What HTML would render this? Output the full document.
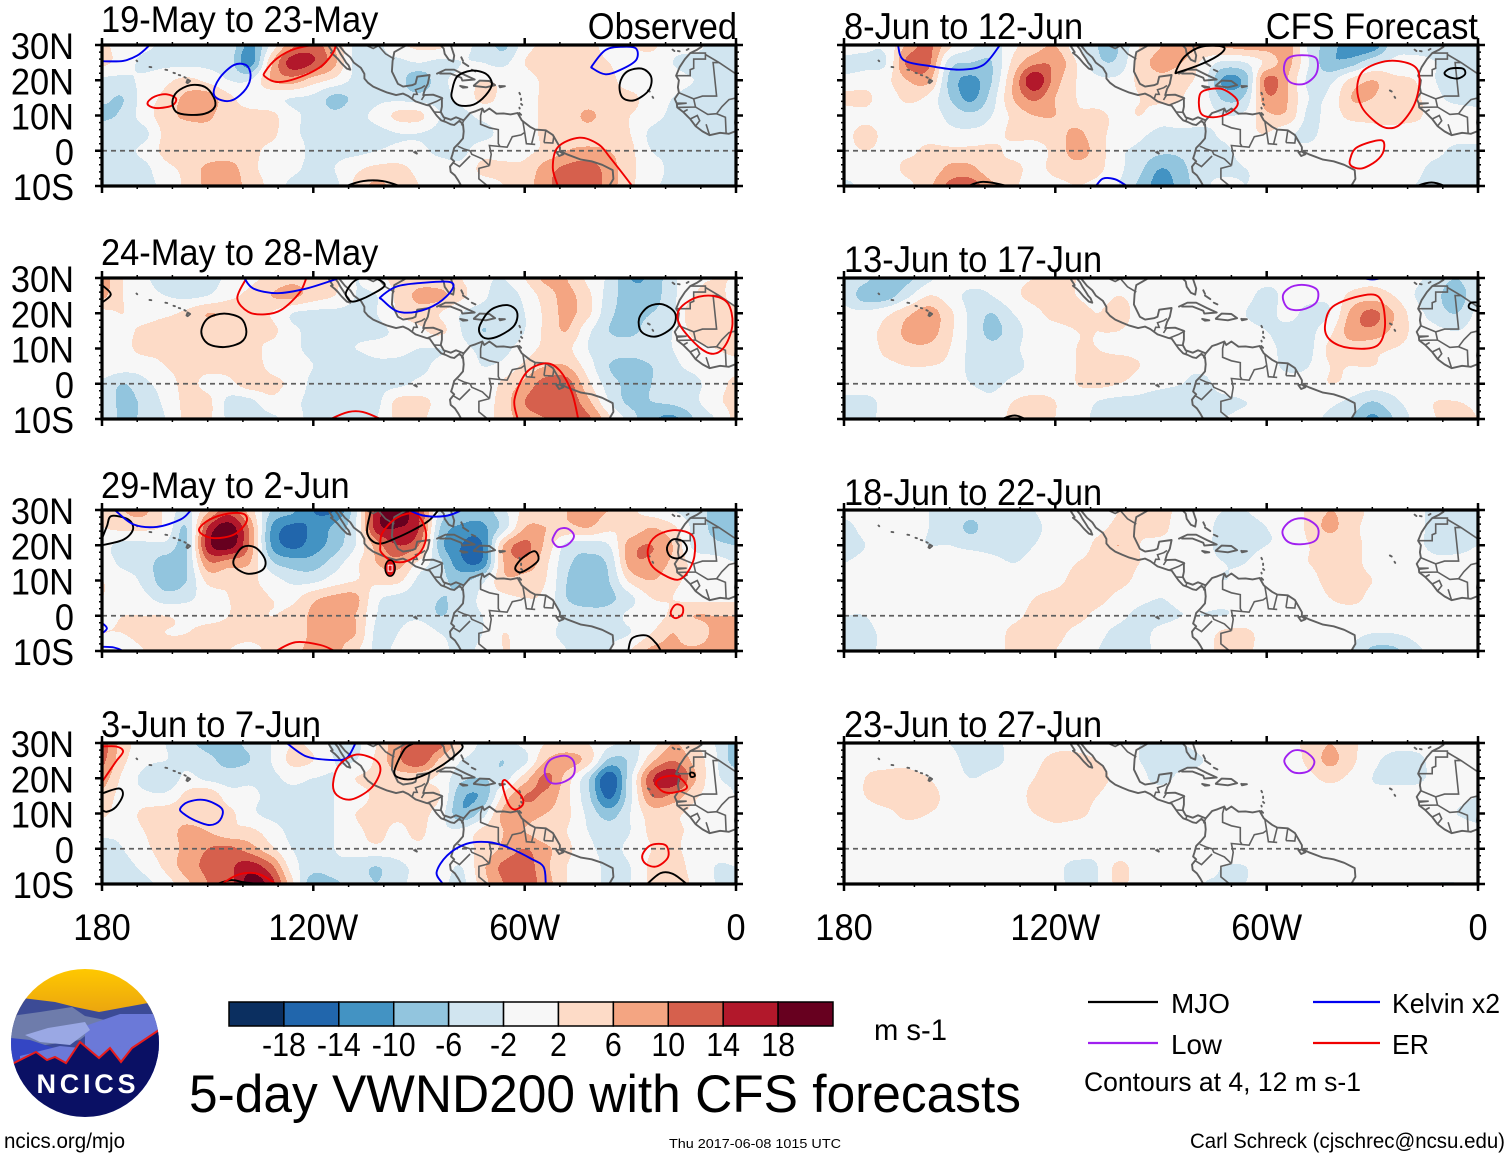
<!DOCTYPE html>
<html lang="en">
<head>
<meta charset="utf-8">
<title>5-day VWND200 with CFS forecasts</title>
<style>
html,body{margin:0;padding:0;background:#fff;width:1510px;height:1158px;overflow:hidden}
svg{display:block;font-family:"Liberation Sans",Arial,sans-serif}
</style>
</head>
<body>
<svg id="chart" xmlns="http://www.w3.org/2000/svg" width="1510" height="1158" viewBox="0 0 1510 1158">
  <g id="panels"></g>

  <g id="colorbar"></g>
  <text x="874" y="1040" font-size="30" textLength="73" lengthAdjust="spacingAndGlyphs">m s-1</text>
  <text x="189" y="1112" font-size="53" textLength="832" lengthAdjust="spacingAndGlyphs">5-day VWND200 with CFS forecasts</text>

  <g>
    <line x1="1088" y1="1002" x2="1158" y2="1002" stroke="#000" stroke-width="2.2"/>
    <text x="1171" y="1013" font-size="28" textLength="59" lengthAdjust="spacingAndGlyphs">MJO</text>
    <line x1="1313" y1="1002" x2="1380" y2="1002" stroke="#0000f0" stroke-width="2.2"/>
    <text x="1392" y="1013" font-size="28" textLength="108" lengthAdjust="spacingAndGlyphs">Kelvin x2</text>
    <line x1="1088" y1="1043" x2="1158" y2="1043" stroke="#a020f0" stroke-width="2.2"/>
    <text x="1171" y="1054" font-size="28" textLength="51" lengthAdjust="spacingAndGlyphs">Low</text>
    <line x1="1313" y1="1043" x2="1380" y2="1043" stroke="#f00000" stroke-width="2.2"/>
    <text x="1392" y="1054" font-size="28" textLength="37" lengthAdjust="spacingAndGlyphs">ER</text>
    <text x="1084" y="1091" font-size="27" textLength="277" lengthAdjust="spacingAndGlyphs">Contours at 4, 12 m s-1</text>
  </g>

  <text x="4" y="1148" font-size="21" textLength="121" lengthAdjust="spacingAndGlyphs">ncics.org/mjo</text>
  <text x="669" y="1148" font-size="13" textLength="172" lengthAdjust="spacingAndGlyphs">Thu 2017-06-08 1015 UTC</text>
  <text x="1190" y="1148" font-size="21" textLength="315" lengthAdjust="spacingAndGlyphs">Carl Schreck (cjschrec@ncsu.edu)</text>

  <g>
    <defs>
      <clipPath id="logo-clip"><circle cx="85" cy="1043" r="74"/></clipPath>
      <linearGradient id="logo-sky" x1="0" y1="0" x2="0" y2="1">
        <stop offset="0" stop-color="#ffc800"/>
        <stop offset="1" stop-color="#e8a012"/>
      </linearGradient>
    </defs>
    <g clip-path="url(#logo-clip)">
      <rect x="11" y="969" width="148" height="50" fill="url(#logo-sky)"/>
      <polygon points="11,1000 22,998 55,1002 75,1007 99,1012 148,1003 159,1005 159,1060 11,1060" fill="#3c4b96"/>
      <polygon points="11,1016 40,1012 72,1007 85,1016 105,1020 80,1040 11,1050" fill="#6e7cab"/>
      <polygon points="85,1026 120,1014 159,1014 159,1090 85,1090" fill="#6b79d8"/>
      <polygon points="25,1035 48,1028 85,1022 90,1030 70,1045 40,1042" fill="#9aa8e4"/>
      <polygon points="11,1038 30,1040 60,1050 70,1070 20,1075 11,1075" fill="#3446c4"/>
      <polygon points="20,1056 60,1046 100,1050 130,1045 159,1028 159,1080 20,1080" fill="#6b79d8"/>
      <polygon points="11,1064 14,1063 36,1052 47,1060 55,1057 66,1063 80,1042 99,1058 110,1048 121,1062 132,1048 159,1030 159,1120 11,1120" fill="#0a1064"/>
      <polyline points="11,1064 14,1063 36,1052 47,1060 55,1057 66,1063 80,1042 99,1058 110,1048 121,1062 132,1048 159,1030" fill="none" stroke="#e81c1c" stroke-width="2"/>
      <text x="86" y="1093" font-size="27" font-weight="bold" fill="#fff" text-anchor="middle" textLength="99" lengthAdjust="spacing">NCICS</text>
    </g>
  </g>
</svg>

<script>
// ---- Shared axis data ----
const lonGrid = [180,174,168,162,156,150,144,138,132,126,120,114,108,102,96,90,84,78,72,66,60,54,48,42,36,30,24,18,12,6,0];
const latGrid = [30,25,20,15,10,5,0,-5,-10];
const xMajorTicks = [180,120,60,0];
const xMajorLabels = ['180','120W','60W','0'];
const yMajorTicks = [30,20,10,0,-10];
const yMajorLabels = ['30N','20N','10N','0','10S'];
const levelBounds = [-18,-14,-10,-6,-2,2,6,10,14,18];
const levelColors = ['#0b2f60','#2166ac','#4393c3','#92c5de','#d1e5f0','#f7f7f7','#fddbc7','#f4a582','#d6604d','#b2182b','#67001f'];
const colorbarLabels = ['-18','-14','-10','-6','-2','2','6','10','14','18'];
const seriesColors = {mjo:'#000000',kelvin:'#0000f0',er:'#f00000',low:'#a020f0'};

// ---- VWND200 anomaly (m/s), rows by latGrid, columns by lonGrid ----
const vwndMay19 = [
[3,0,-1,-3,-3,-3,-3,-11,-1,9,12,6,-3,-3,1,3,3,-1,-3,-7,0,3,3,3,1,2,3,-1,-1,-3,-3],
[3,0,-3,-3,-3,-3,-4,-12,5,16,14,7,-3,-3,-3,-2,-3,-2,-2,-3,2,5,3,3,2,0,0,-2,-3,-3,-3],
[-3,-3,-1,1,3,1,-2,-2,6,8,4,1,-3,-3,-4,-9,-3,-1,2,1,0,3,3,3,3,0,0,-1,-2,-3,-6],
[-5,-6,0,3,7,8,3,0,-1,-2,-3,-7,-5,-3,-3,-4,-3,-1,3,1,0,3,3,3,3,3,0,-2,-3,-3,-3],
[-7,-5,0,4,7,7,3,3,3,-1,-3,-5,-3,-1,3,3,-2,-3,-1,0,0,3,3,7,3,2,0,-3,-3,-3,-3],
[-3,-3,-3,3,3,4,3,3,3,-1,-3,-3,-3,-3,-2,-2,-3,-3,-3,-1,0,3,4,4,3,2,-3,-5,-3,-3,-3],
[-3,-3,-1,3,3,3,3,3,1,0,-3,-3,-3,-2,-1,-1,-3,-3,0,0,1,3,6,7,6,3,-2,-3,-3,-3,-3],
[-3,-3,-3,1,3,7,8,3,1,-1,-3,-2,1,3,3,1,0,-1,3,3,3,8,11,12,8,3,0,-3,-3,-3,-3],
[-4,-4,-3,-1,3,7,9,4,1,-3,-3,-3,3,7,4,2,0,0,0,2,4,9,12,13,8,3,-1,-3,-3,-3,-3]];
const vwndMay24 = [
[8,2,-1,-5,-6,-4,-1,1,3,5,4,3,-2,1,3,4,3,2,-1,-2,2,7,6,1,-3,-10,-9,-3,1,2,2],
[7,2,0,-2,-3,-2,1,3,6,7,4,2,-2,-2,3,7,7,3,-1,-4,-1,4,7,3,-4,-8,-8,-3,2,3,1],
[1,2,0,1,3,6,5,3,2,-2,-3,-3,-3,-2,2,4,2,-2,-4,-3,-2,3,7,3,-5,-7,-6,-3,5,3,3],
[1,1,3,5,4,3,3,2,3,-1,-3,-3,-3,-3,-1,1,3,-2,-6,-4,-2,3,6,-1,-6,-7,-4,-2,3,3,3],
[0,1,3,3,3,3,3,3,1,-1,-3,-3,-2,-1,-1,-2,-2,-1,-3,-3,0,3,3,-2,-4,-4,-3,-2,1,2,3],
[1,0,0,2,3,3,3,4,1,0,-2,-3,-4,-3,-3,-3,-1,0,-2,-1,3,6,6,0,-6,-8,-6,-3,-1,0,1],
[-3,-6,-3,0,3,1,1,4,3,1,-3,-3,-3,-3,-3,-1,0,1,-1,3,7,12,12,3,-4,-7,-6,-4,-3,0,3],
[-3,-7,-5,-1,3,3,-3,-3,1,-1,-3,-3,-3,-3,3,3,1,0,0,4,10,13,13,7,-2,-7,-6,-5,-3,1,3],
[-2,-7,-5,-2,3,3,-3,-5,-3,-1,-3,-3,-3,-2,3,3,0,0,0,4,8,10,12,11,3,-4,-9,-11,-6,-2,3]];
const vwndMay29 = [
[3,6,7,1,-3,5,12,4,-6,-9,-14,-14,-3,16,20,14,-3,-6,-8,-3,3,4,6,7,6,3,0,-2,-4,-7,-8],
[2,3,3,1,-6,14,20,9,-10,-15,-13,-9,-2,16,18,14,-6,-11,-11,-4,6,6,5,6,3,3,6,3,-3,-7,-8],
[-1,-3,-3,-3,-6,16,20,9,-10,-15,-12,-8,-2,8,14,10,-8,-14,-14,6,11,5,-3,-4,-2,8,10,6,-3,-5,-6],
[0,-3,-4,-8,-6,9,8,6,-5,-8,-8,-4,1,6,8,1,-5,-13,-13,6,9,3,-5,-7,-5,8,9,5,1,0,-2],
[2,0,-3,-8,-6,3,3,3,0,-3,-3,0,2,3,3,-3,-5,-7,-3,5,4,2,-6,-8,-6,3,6,3,1,0,-1],
[2,0,-1,-4,-3,0,2,3,2,1,5,7,7,-1,-3,-4,-6,-5,-1,1,2,1,-6,-8,-7,-3,2,2,1,1,1],
[1,2,2,2,1,1,2,3,2,3,7,8,6,-2,-3,-3,-6,-4,-2,0,1,0,-3,-4,-4,-1,0,3,6,6,6],
[2,2,3,2,2,3,3,3,3,3,7,7,6,-3,-2,1,-2,-3,-2,2,0,-1,-3,-3,-3,-2,2,6,3,7,7],
[0,0,2,3,3,3,2,1,3,5,7,7,3,-3,-1,0,-1,-3,-1,2,1,0,-2,-4,-2,2,7,7,7,8,8]];
const vwndJun3 = [
[12,4,0,-2,-5,-7,-7,-5,-2,2,1,-3,-3,2,9,13,12,3,-3,-3,-1,2,3,2,-1,-3,0,6,3,-2,-8],
[11,3,-1,-2,-3,-5,-7,-6,-2,3,2,-2,-2,3,9,13,5,-2,-4,-6,-3,6,8,4,-7,-5,5,10,5,-1,-8],
[8,1,-3,-5,-1,-3,-4,-3,-3,-1,-2,-2,2,3,4,3,1,-5,-6,-4,4,11,4,-5,-17,-3,13,17,7,-1,-3],
[5,0,-1,-1,3,5,0,-1,-3,-3,-3,-2,0,3,4,3,2,-9,-9,3,10,9,3,-5,-15,-3,10,9,3,0,-2],
[3,0,3,4,4,3,3,-1,-3,-3,-3,-2,2,3,3,3,0,-9,-4,7,8,6,3,-3,-8,-2,4,3,1,0,-1],
[-1,-1,2,4,7,6,3,3,0,-3,-3,-2,1,3,1,3,-1,-1,3,6,6,3,2,-2,-4,-2,3,3,1,0,0],
[-3,-2,1,4,7,10,11,8,3,-2,-3,-2,0,1,0,1,0,1,3,7,10,7,3,-1,-3,-1,2,3,0,-1,-1],
[-3,-3,-1,3,8,11,13,16,11,0,-4,-3,-4,-6,-3,-1,0,-2,5,11,12,7,2,0,-3,-2,3,5,0,-2,-2],
[-3,-3,-3,0,5,10,12,20,16,3,-9,-7,-4,-6,-3,-1,-1,-3,4,10,12,8,2,0,-3,-2,3,6,1,-2,-2]];
const vwndJun8 = [
[0,-1,-1,7,11,3,-1,-4,1,4,6,-1,-6,-6,2,6,8,6,7,8,8,8,-3,-8,-13,-13,-4,-3,-3,-3,-3],
[-3,-3,-2,11,11,-4,-6,-6,3,9,9,2,-5,-5,4,7,6,1,-3,-2,3,7,-2,-9,-8,-3,-1,-1,-2,-3,-3],
[-1,0,1,6,7,-7,-11,-6,6,17,8,2,-1,-1,3,5,3,0,-11,-8,11,6,-3,-3,3,6,3,2,-2,-3,-3],
[3,3,0,3,1,-6,-11,-4,6,11,6,2,0,0,2,3,2,0,-7,-5,9,6,-2,-1,6,6,3,3,-1,-3,-3],
[0,1,0,0,0,-3,-5,-2,3,6,6,3,3,1,2,0,1,0,-2,-1,5,5,-3,0,3,3,3,3,0,0,-1],
[1,3,1,0,0,-1,-1,0,3,3,4,7,3,1,-1,-3,-3,-3,-1,1,2,-1,-3,0,0,1,1,0,0,0,0],
[1,2,1,1,3,3,3,3,1,1,3,8,4,-1,-3,-5,-5,-3,-3,0,0,-1,-1,0,0,0,0,0,-1,-3,-3],
[0,0,0,3,3,7,7,3,3,1,3,4,3,-1,-5,-10,-7,-3,-3,-2,-1,0,0,0,0,0,0,-1,-3,-3,-3],
[-3,-1,0,1,5,11,12,7,3,0,1,2,1,-2,-7,-12,-8,-3,-1,-2,-1,0,0,0,0,0,-1,-2,-3,-3,-3]];
const vwndJun13 = [
[-2,-5,-8,-7,-3,0,0,-1,1,2,2,2,1,1,0,0,0,1,1,0,-1,-1,-1,-1,0,1,0,-1,-4,-6,-3],
[-3,-8,-8,-3,2,0,-3,-2,1,3,3,2,1,2,1,0,0,0,0,-1,-3,-1,-1,-1,3,4,2,-2,-5,-8,-3],
[-1,-1,1,5,8,3,-3,-6,-2,1,3,3,2,3,1,0,0,0,0,-2,-3,-1,-3,-2,7,11,6,0,-4,-6,-1],
[0,1,3,7,8,3,-3,-7,-4,0,1,2,2,2,1,0,0,0,0,-1,-2,-3,-3,1,8,9,5,1,-1,-2,0],
[0,0,3,5,5,2,-3,-5,-3,0,1,2,2,1,1,1,0,0,1,0,-1,-3,-3,3,4,3,2,1,0,0,0],
[0,0,1,2,2,1,-3,-4,-3,-1,1,2,3,4,2,1,-1,-1,1,1,0,-3,-2,2,2,2,1,1,0,0,0],
[0,0,0,0,0,0,-2,-3,-1,0,1,2,3,2,0,-1,-2,-3,0,1,1,0,0,2,1,0,0,1,-1,-1,-1],
[-3,-3,-1,0,0,0,0,-1,2,3,2,1,-2,-3,-3,-4,-4,-3,-3,-2,-1,-1,0,-1,-3,-6,-3,0,2,2,1],
[-4,-3,-1,0,1,1,1,0,3,3,2,0,-3,-3,-3,-3,-4,-3,-2,-1,-2,-1,-1,-3,-6,-11,-6,-1,2,4,2]];
const vwndJun18 = [
[-1,0,0,-1,-2,-3,-4,-3,-3,-2,0,0,1,2,4,3,1,-1,-2,-2,-1,-1,3,6,4,1,0,-1,-3,-3,-2],
[-3,-1,0,0,-2,-3,-7,-3,-3,-3,0,0,1,3,3,3,0,-1,-3,-3,-2,-1,3,7,3,1,0,-1,-3,-4,-3],
[-3,-2,0,-1,-2,-2,-3,-3,-3,-2,0,0,3,6,2,1,1,-1,-3,-3,-2,-1,2,3,3,1,0,-1,-3,-3,-2],
[-2,-1,0,0,0,0,0,-1,-2,-1,0,2,3,3,2,1,1,-1,-2,-2,0,1,2,3,3,1,0,0,-1,-1,-1],
[0,0,0,0,0,0,0,0,0,0,1,3,3,3,1,-1,-1,-1,-2,-1,0,1,1,3,3,2,0,0,0,0,0],
[0,0,0,0,0,0,0,0,0,2,3,3,3,1,-1,-2,-1,-1,-1,-1,-1,0,0,2,3,1,0,0,0,0,0],
[-2,-2,0,0,0,0,0,0,1,3,3,3,1,-1,-3,-3,-2,-2,-2,-1,-1,0,0,0,0,0,0,0,0,0,0],
[-3,-3,-1,0,0,0,0,0,3,4,3,1,-1,-3,-3,-1,0,0,3,3,0,-1,-1,-1,-1,-2,-2,-1,0,0,0],
[-3,-3,-1,0,0,0,0,0,3,3,2,0,-2,-3,-3,-1,0,0,4,3,0,-1,-1,-1,-2,-7,-7,-3,-1,0,0]];
const vwndJun23 = [
[0,0,0,-1,-1,-2,-3,-3,-1,0,1,1,0,-1,-2,-2,-2,-1,0,0,0,1,3,6,3,0,-1,-1,-1,-1,-2],
[0,1,1,1,0,-1,-3,-3,-1,1,3,3,2,0,-2,-3,-3,-2,-1,0,0,0,3,7,3,-1,-3,-3,-1,-1,-1],
[0,2,3,3,2,0,-2,-1,0,2,4,4,3,1,-1,-3,-1,-1,0,0,-1,0,1,3,1,-2,-3,-3,-1,-1,-1],
[0,2,4,3,3,1,0,0,0,3,3,3,2,0,-1,0,0,0,0,-1,-2,-1,0,0,-1,-1,0,0,0,-1,-2],
[0,0,1,3,2,1,0,0,0,2,3,3,1,0,0,0,0,0,0,-1,-1,-1,0,0,0,0,0,0,0,-2,-3],
[0,0,0,0,0,0,0,0,0,0,1,0,0,0,0,0,0,0,0,0,0,0,0,0,0,0,0,0,0,0,-1],
[0,0,0,0,0,0,0,0,0,0,0,0,-1,-1,0,0,0,0,0,0,0,0,0,0,0,0,0,0,0,0,0],
[0,0,0,0,0,0,0,0,0,0,-1,-3,-2,3,0,0,0,-1,-2,-2,0,0,0,0,0,0,0,0,0,-1,-1],
[0,0,0,0,0,0,0,0,0,0,-1,-3,-2,3,0,0,0,-2,-2,-2,-1,0,0,-1,-1,0,0,-1,-2,-2,-1]];

// ---- Wave-filtered contours: [series, closed?, [[lonW, lat], ...]] ----
const contoursMay19 = [
['kelvin',false,[[180,25.4],[174,25.5],[170,27],[167,29.5],[165,32]]],
['er',true,[[167,13.8],[165,15.4],[161.6,16],[159,14.8],[160,12.9],[163.7,12.1],[166.4,12.6]]],
['mjo',true,[[160,13.8],[158.7,16.7],[154.9,18.6],[150.8,18.1],[148.3,15.2],[148,12.4],[150.8,10.5],[155.5,10.2],[158.9,11]]],
['kelvin',true,[[148.3,16.2],[146.7,20.5],[142.6,24.3],[139.1,24.3],[137.8,21.4],[139.1,17.6],[142.6,14.5],[146,14.3]]],
['er',true,[[133.7,22.4],[130.3,26.2],[124.9,29],[115.3,30.5],[114,28.6],[118,23.8],[124.9,20.5],[130.3,19.5],[133.7,21]]],
['mjo',true,[[80.6,17.1],[79.2,21],[75.2,22.7],[71.1,21.9],[69.3,19],[71.1,15.7],[74.5,13.1],[78.6,12.9],[80.6,14.8]]],
['mjo',true,[[33,19],[31,22.4],[26.8,23.3],[24.1,21],[24.8,17.1],[28.9,14.3],[32.3,15.2]]],
['kelvin',true,[[40.7,24.3],[37,28.6],[32.3,29.5],[28.4,29],[28.4,25.7],[32.9,22.9],[37,21.7],[40.6,23.3]]],
['mjo',false,[[112,-11],[110.6,-10],[105.8,-8.6],[100.3,-8.6],[95.6,-10],[94,-11]]],
['er',false,[[50.6,-11],[50.6,-10],[52,-4.8],[50.6,1],[44.5,3.7],[39,1.8],[35.7,-2],[29.5,-10],[29,-11]]]
];
const contoursMay24 = [
['mjo',false,[[181,29],[180,28],[177.5,25.4],[180,23],[181,22]]],
['er',false,[[139,31],[139,30],[141.6,24.3],[138.5,20.4],[133.7,19.7],[129,21],[124,25.7],[122,30],[122,31]]],
['kelvin',false,[[140,31],[139.6,30],[137,27],[130.3,25.7],[122,27],[112.6,30],[110,31]]],
['mjo',true,[[110.6,26.2],[107.8,29.5],[103,30],[99.7,28],[103.7,25.2],[108.5,23.3],[110.3,24.3]]],
['kelvin',true,[[100.8,24.7],[96.3,27.6],[89.4,28.6],[81.3,28.9],[80.6,26.7],[84.7,22.8],[90.8,20.4],[96.3,20.6],[100.4,23.8]]],
['mjo',true,[[151.8,14.7],[150,18.5],[145.3,19.9],[140.5,18.5],[139,14.7],[140.5,11.8],[145.3,10.4],[150,11.4]]],
['mjo',true,[[72.7,16.6],[69.7,20.9],[65,22.3],[62.2,20.4],[62.9,16.6],[67,13.7],[70.7,12.8],[72.7,14.2]]],
['mjo',true,[[27.5,18.5],[24.8,21.9],[20.7,22.5],[17.3,20],[18,16.1],[22.7,13.4],[26.8,14.7]]],
['er',true,[[16.2,20.9],[11.8,24.3],[6.4,24.9],[2.3,22.8],[1,17],[3,10.9],[6.4,8.5],[10.5,10.4],[15.9,16.6]]],
['er',false,[[62,-11],[62,-10],[62.9,-4.4],[59.5,3.2],[54,5.8],[50,3.7],[46.6,-2.5],[44.8,-10],[44.8,-11]]],
['er',false,[[116,-11],[115,-10],[110,-8],[106,-8],[101,-10],[100,-11]]]
];
const contoursMay29 = [
['mjo',false,[[181,19.8],[180,20],[173.9,21.6],[171.2,24.5],[172.5,27.3],[177.3,28.3],[178.6,25.4],[180,22],[181,21]]],
['kelvin',false,[[177,31],[176,29.7],[171,25.9],[164.5,25.2],[157.7,27.3],[155,29.7],[154,31]]],
['er',true,[[152.4,24.7],[149.4,27.3],[144,29],[139.6,28.8],[139.1,26.4],[142.6,23],[148,22],[151.4,23]]],
['mjo',true,[[142.6,15.9],[140,19.5],[136.4,19.3],[133.7,15.9],[134.4,13],[138.5,11.9],[142,13.6]]],
['mjo',false,[[103.5,31],[103.7,29.7],[104.7,23.5],[101.7,20.5],[96.3,22.1],[88,26.4],[84.7,29.7],[83.5,31]]],
['er',true,[[101,19.7],[100.4,23.5],[96.3,27.8],[90.8,28.8],[88,23.5],[89.4,18.3],[93.5,15.5],[97.6,15.5],[100.6,17.8]]],
['kelvin',false,[[93,31],[92.2,29.7],[88,28.3],[82.6,28.3],[78.5,29.7],[77.5,31]]],
['low',true,[[52,22],[50.4,24.5],[47.7,24.7],[46,22.6],[47.7,20.2],[50.4,19.5],[51.8,20.7]]],
['mjo',true,[[62.7,13.6],[60.6,16.4],[57.2,18.3],[56.1,15.9],[58.6,13.6],[61.3,12.3]]],
['er',true,[[25,18.8],[22.7,22.6],[17.3,24.3],[12.3,22.6],[11.8,16.9],[13.9,12.1],[16.6,10.2],[20.7,11.7],[24.1,14.5]]],
['mjo',true,[[19.6,19.3],[18,21.6],[15.2,21.2],[13.9,18.8],[16,16.4],[18.7,16.9]]],
['er',true,[[18.3,1.7],[17,3.2],[15.2,2.6],[15.2,0.5],[17,-0.7],[18.4,0.2]]],
['mjo',false,[[30.8,-11],[30.6,-10],[29.5,-6.4],[25.4,-5.6],[22.7,-7.8],[21.3,-10],[20.5,-11]]],
['er',false,[[132,-11],[130.6,-10],[125,-7.5],[118,-8.3],[114,-10],[113,-11]]],
['kelvin',false,[[181,-2],[180,-2.1],[178.6,-3.6],[180,-5],[181,-5.2]]],
['kelvin',false,[[181,-8.7],[180,-8.8],[176.6,-9],[174,-10],[173,-11]]]
];
const contoursJun3 = [
['er',false,[[181,29],[180,29],[176,29],[174,27.6],[176,24.8],[178.6,21],[180,19],[181,18]]],
['mjo',false,[[181,15.5],[180,15.7],[175.2,17.1],[174.1,15.2],[176,11.9],[178.6,10.5],[180,11],[181,11.2]]],
['kelvin',true,[[157.8,11.4],[155.5,13.3],[150.8,13.8],[146,11.4],[146.5,8.1],[149.4,6.7],[153.5,8],[156.9,10]]],
['kelvin',false,[[129,31],[127.6,30],[122,26.2],[115.3,25.2],[110.6,25.7],[108,30],[107.5,31]]],
['er',true,[[114.4,18.6],[112.6,23.8],[107.8,26.7],[102.4,25.2],[101,22],[103.7,17.1],[109.2,14],[113.3,15.2]]],
['mjo',false,[[92,31],[91.5,30],[94.2,28.1],[97,21.9],[95.2,20],[91,20],[84,23.3],[78,28.1],[78,30],[77,31]]],
['er',true,[[66.3,18.1],[65.6,19.5],[63.6,17.6],[60.8,14.8],[60.6,12.4],[62.9,11.1],[64.7,12.9]]],
['low',true,[[54.3,21.9],[52.7,25.2],[48.6,26.4],[46.1,24.8],[46.1,21],[49.3,18.8],[52.7,18.8]]],
['er',true,[[22.7,18.6],[20.7,20.3],[16.6,20.5],[13.9,17.4],[17.3,16],[20.7,16.2]]],
['mjo',true,[[13,21.5],[12,21.5],[11.7,20.6],[12.8,20.4]]],
['kelvin',false,[[84,-11],[83.3,-10],[85,-6.7],[82,-1.9],[76.5,1.4],[70.4,1.9],[65,0.5],[58,-2.9],[54.6,-5.2],[54,-10],[54,-11]]],
['mjo',false,[[149,-11],[147.3,-10],[143.3,-8.9],[140,-9.5],[136.5,-10],[135,-11]]],
['er',false,[[147,-11],[146,-10],[141.2,-7.3],[135.7,-7.1],[130.6,-10],[129.5,-11]]],
['er',true,[[26.6,-1.9],[24.2,1],[20,1],[19.3,-2.4],[22.5,-5],[25.6,-4.3]]],
['mjo',false,[[26,-11],[25.2,-10],[21.4,-6.9],[18,-7.1],[14,-10],[13,-11]]]
];
const contoursJun8 = [
['kelvin',false,[[165,31],[164.7,30],[163,25.7],[155.5,24],[147.3,23],[140.5,24.3],[135.7,30],[135,31]]],
['mjo',true,[[85.8,22.4],[83.3,26.7],[78.6,29.5],[72.4,29.5],[73,27.6],[78,24.8],[84.7,22.4]]],
['low',true,[[55.1,22.9],[54,26.2],[50,27.1],[45.9,26.2],[45.9,21.9],[49.3,19],[53.4,19.5]]],
['er',true,[[79.2,14.8],[77.9,17],[73,17.6],[69,15.2],[68.3,12.9],[71,10.5],[75.2,9.5],[78.6,10.5]]],
['er',true,[[34.3,18.1],[32.3,22.9],[25.5,25.5],[18.6,24.3],[16.6,20.5],[18,13.3],[22,7.6],[25.5,6.4],[28.9,8],[33,12.4]]],
['er',true,[[36.3,-2.4],[34.3,1],[27.5,3],[26.8,0],[28.9,-2.9],[33,-5],[36,-4.3]]],
['mjo',true,[[9.5,22.1],[7.8,23.3],[4.3,23.3],[3.7,21.7],[5.7,20.5],[8.4,21]]],
['mjo',false,[[146,-11],[144.6,-10],[140.5,-8.8],[133.7,-10],[132,-11]]],
['kelvin',false,[[110,-11],[108.5,-10],[106.5,-7.9],[103,-8.1],[99.7,-10],[98,-11]]],
['mjo',false,[[18.5,-11],[17.3,-10],[13.2,-9],[9.5,-10],[8.5,-11]]]
];
const contoursJun13 = [
['low',true,[[55.4,25],[53,27.5],[49,28],[45.6,26.5],[46,23],[50,21],[54,21.5]]],
['er',true,[[43.4,16.7],[40.6,22.3],[29.2,25.2],[26.4,18.1],[28.4,11],[36.3,10.1],[42,12.4]]],
['mjo',false,[[136,-11],[135,-10],[131.5,-9],[128.6,-10],[127,-11]]],
['mjo',false,[[-1,23],[2,23],[2.5,21.5],[0,20.5],[-1,20.5]]],
['kelvin',false,[[34,31],[33,30.2],[30,29.6],[27,30.2],[26,31]]]
];
const contoursJun18 = [
['low',true,[[55.5,24],[53,27],[49,27.5],[45.5,25],[46,21.5],[50,20.3],[54,21]]]
];
const contoursJun23 = [
['low',true,[[55,25],[52.5,27.8],[49,27.5],[46.5,25],[47.5,22.5],[50,21.5],[53,22]]]
];
const stormMarkers = [[98.2,13.5]];

// ---- Basemap polylines [lonW, lat] ----
const coastlines = [
[[116,30.5],[115.5,29.5],[114.5,28],[115,27.8],[114,27],[113,26],[112,24.8],[110.5,23.3],[109.5,23],[110,24.2],[110.7,25],[111.3,26],[112.3,27.5],[113,28.8],[114,30],[114.5,31]],
[[113,31],[112.8,30],[112,29],[111,27.8],[109.5,26.5],[108.5,25],[106.5,23.5],[105.5,21.8],[105.5,20.5],[104.5,19.3],[103,18.2],[101,17.3],[99,16.5],[96.5,15.8],[94.5,16.2],[93,15.5],[91,14],[88,13],[87,12.8],[85.7,11],[85,10],[83.7,8.6],[82.5,8.2],[81,7.5],[80,7.3],[78.5,8.5],[77.5,7.5],[77.3,5.5],[77.5,3.5],[78.8,2],[80,0.8],[80.5,-1],[80.9,-2.2],[80,-3],[81.2,-4.5],[81,-6],[79.8,-7],[78.8,-8.5],[78,-10]],
[[94,29.7],[97,28],[97.5,25.5],[97.7,22.5],[96,19],[94.5,18.2],[92,18.6],[91,19],[90.5,21],[87,21.5],[87.5,19],[88.3,17.5],[88.8,15.8],[86,15.9],[83.5,15],[83.5,12.5],[83.8,11],[83,9.5],[81,8.8],[79.5,9.5],[77.3,8.6],[75.5,10.7],[74,11.2],[72,12],[71.5,11],[70,12],[68,10.5],[66,10.6],[64,10.3],[62,10.7],[60.8,8.6],[58.5,6.8],[57,6],[54,5.8],[52,4.5],[50,1],[50,0],[48,-1],[44,-2.5],[41,-3],[38,-4],[35,-5.5],[34.8,-8],[36,-10]],
[[90,30],[84,30],[83,29],[82.7,27.5],[81.5,25.8],[80.3,25.3],[80,27],[81,30]],
[[9.7,30],[9.8,29.5],[11,28.7],[13,27.7],[14.5,26],[16,23.7],[17,21.3],[16.2,20],[16.5,18],[16.2,16.5],[17.4,14.7],[16.8,13.4],[16.7,12.3],[15,11],[13.7,9.7],[13,9],[11.5,7],[9.5,5.5],[7.5,4.4],[4.5,5.1],[2,4.8],[0,5.6]],
[[84.9,21.9],[82.5,23],[80,23],[77,21.5],[74.2,20.2],[77.7,19.9],[78,20.7],[81,21.9],[84,21.9]],
[[74.4,18.5],[72.8,19.9],[70,19.8],[68.4,18.6],[71,18],[74.4,18.4]],
[[78.3,18.4],[76.3,18],[77.5,17.9],[78.3,18.4]],
[[67.2,18.4],[65.6,18.3],[67,18],[67.2,18.4]],
[[78,26.5],[77.5,25.5]],[[77.5,25],[76,24]],[[75,23],[74,22.5]],
[[61.5,16.4],[61.3,16]],[[61,14.8],[61,14.4]],[[61,13.3],[60.7,13]],[[61.5,12.2],[61.4,12]],[[61.5,10.7],[61,10.2]],
[[155.7,19.2],[155,19.8],[155.7,20.2],[156,19.4],[155.7,19.2]],[[156.6,20.9],[156.2,20.7]],[[158.2,21.5],[157.8,21.4]],[[159.7,22.1],[159.3,22]],
[[162,23],[161.5,22.9]],[[166.5,23.8],[166,23.7]],[[170.2,25.6],[170,25.4]],
[[18,28.7],[17.5,28.3]],[[16.5,28.3],[16,28.2]],[[14,28.6],[13.5,28.9]],
[[25,17.1],[24.5,16.8]],[[23.7,15.3],[23.5,15]],
[[91.4,-0.4],[90.6,-0.8],[91,-0.2]],
[[51,-0.4],[50.2,-1.5],[49,-1],[50,-0.2],[51,-0.4]]
];
const borders = [
[[97,26],[99.5,27.5],[101.5,29.8],[103,29],[104.5,29.7],[106,31]],
[[92,14.6],[91.5,16],[90.5,16],[91,17.3],[89.2,17.9],[88.3,18.5]],
[[89.3,14.4],[88.5,15.7]],[[87.5,13],[85,14],[83.2,15]],[[85.7,11],[83.7,10.9]],[[83,8.3],[82.6,9.5]],[[77.9,7.2],[77.3,8.6]],
[[72,12],[72.5,10],[72.5,7.5],[70,6.5],[67.5,6],[67.5,2],[67,1.2]],
[[79,1.3],[77,0.4],[75.5,0],[75,-1],[72,-2.3],[70,-4.2]],
[[80.3,-3.4],[78.5,-4.5],[75.5,-1.5]],
[[70,-4.2],[69.5,-1],[70,1.5],[67,1.2]],
[[67,1.2],[65,1],[63.5,4],[61,4.5],[60,5.2]],[[60,5.2],[60.5,8.3]],
[[60,5.2],[59.5,2],[57,1.8]],[[57,6],[58,2]],[[54,5.8],[54.5,2.3]],[[54.5,2.3],[52,2.2],[51.7,4.2]],
[[70,-4.2],[73,-5],[73,-8],[70.5,-10]],
[[13,27.7],[8.7,27.7],[8.7,26],[12,26],[12,23.4],[13,23],[13,21.3],[17,21.3]],
[[8.7,27.3],[4.8,25],[0,21.8]],
[[4.8,25],[6.5,25],[5.5,15.5],[9.5,15.5],[12,14.7],[16.3,16.5]],
[[12,14.7],[11.5,12.4],[16.7,12.3]],[[16.7,13.5],[14,13.5],[16.7,13.2]],[[13.7,11.7],[15,11]],
[[13,9],[11,10],[10.3,8.5],[11.5,7]],[[8.5,7.5],[7.5,4.4]],
[[11.5,12.4],[8,10.3],[5.5,10.5],[3,9.5],[2.8,5]],
[[5.5,10.5],[4,12.5],[2,14.5],[0,15]],[[0,11],[0.3,8],[0,5.7]]
];

// ---- Panel definitions ----
const panelTitles = ['19-May to 23-May','24-May to 28-May','29-May to 2-Jun','3-Jun to 7-Jun','8-Jun to 12-Jun','13-Jun to 17-Jun','18-Jun to 22-Jun','23-Jun to 27-Jun'];
const panelFields = [vwndMay19,vwndMay24,vwndMay29,vwndJun3,vwndJun8,vwndJun13,vwndJun18,vwndJun23];
const panelContours = [contoursMay19,contoursMay24,contoursMay29,contoursJun3,contoursJun8,contoursJun13,contoursJun18,contoursJun23];

// ---- Layout ----
const PANEL_W = 634, PANEL_H = 141;
const layoutX = [102,102,102,102,844,844,844,844];
const layoutY = [45,278,510,743,45,278,510,743];
const titleBaseY = [32,265,498,737,39,272,505,737];
const NS = 'http://www.w3.org/2000/svg';
const panelsRoot = document.getElementById('panels');

function lonScale(lonW){ return (180 - lonW) / 180 * PANEL_W; }
function latScale(lat){ return (30 - lat) / 40 * PANEL_H; }

function create(tag, parent, attrs){
  const el = document.createElementNS(NS, tag);
  for (const k in attrs) el.setAttribute(k, attrs[k]);
  parent.appendChild(el);
  return el;
}
function label(parent, x, y, str, anchor, size, squeeze){
  const t = create('text', parent, {x:x, y:y, 'font-size':size, 'text-anchor':anchor, fill:'#000'});
  t.textContent = str;
  const w = t.getComputedTextLength();
  if (w > 0) {
    t.setAttribute('textLength', (w * squeeze).toFixed(1));
    t.setAttribute('lengthAdjust', 'spacingAndGlyphs');
  }
  return t;
}
function catmull(p0,p1,p2,p3,t){
  return 0.5*((2*p1)+(-p0+p2)*t+(2*p0-5*p1+4*p2-p3)*t*t+(-p0+3*p1-3*p2+p3)*t*t*t);
}
function sampleField(grid, lonW, lat){
  const fx = (lonGrid[0]-lonW)/(lonGrid[0]-lonGrid[1]);
  const fy = (latGrid[0]-lat)/(latGrid[0]-latGrid[1]);
  const ix = Math.floor(fx), iy = Math.floor(fy);
  const tx = fx-ix, ty = fy-iy;
  const rows = [];
  for (let j=-1;j<=2;j++){
    const r = grid[Math.max(0,Math.min(latGrid.length-1,iy+j))];
    const c = i => r[Math.max(0,Math.min(lonGrid.length-1,ix+i))];
    rows.push(catmull(c(-1),c(0),c(1),c(2),tx));
  }
  return catmull(rows[0],rows[1],rows[2],rows[3],ty);
}
function levelIndex(v){
  let i = 0;
  while (i < levelBounds.length && v >= levelBounds[i]) i++;
  return i;
}
function drawField(parent, grid){
  const paths = levelColors.map(()=>[]);
  for (let py=0; py<PANEL_H; py++){
    const lat = 30-(py+0.5)/PANEL_H*40;
    let start = 0, cur = -1;
    for (let px=0; px<=PANEL_W; px++){
      const lev = px<PANEL_W ? levelIndex(sampleField(grid, 180-(px+0.5)/PANEL_W*180, lat)) : -2;
      if (lev !== cur){
        if (cur >= 0) paths[cur].push('M'+start+' '+py+'h'+(px-start)+'v1h-'+(px-start)+'z');
        start = px; cur = lev;
      }
    }
  }
  paths.forEach((segs,i)=>{
    if (!segs.length) return;
    const band = create('path', parent, {d:segs.join(''), fill:levelColors[i], 'shape-rendering':'crispEdges'});
    
    
  });
}
function polyD(pts){
  return pts.map((p,i)=>(i?'L':'M')+lonScale(p[0]).toFixed(1)+' '+latScale(p[1]).toFixed(1)).join('');
}
function smoothD(pts, closed){
  const P = pts.map(p=>[lonScale(p[0]),latScale(p[1])]);
  const n = P.length;
  const at = i => closed ? P[(i+n)%n] : P[Math.max(0,Math.min(n-1,i))];
  let d = 'M'+P[0][0].toFixed(1)+' '+P[0][1].toFixed(1);
  const last = closed ? n : n-1;
  for (let i=0;i<last;i++){
    const a=at(i-1),b=at(i),c=at(i+1),e=at(i+2);
    d += 'C'+(b[0]+(c[0]-a[0])/6).toFixed(1)+' '+(b[1]+(c[1]-a[1])/6).toFixed(1)+' '
           +(c[0]-(e[0]-b[0])/6).toFixed(1)+' '+(c[1]-(e[1]-b[1])/6).toFixed(1)+' '
           +c[0].toFixed(1)+' '+c[1].toFixed(1);
  }
  return closed ? d+'Z' : d;
}
function drawTicks(g){
  const major = [], minor = [];
  for (let lon=180; lon>=0; lon-=10){
    const x = lonScale(lon).toFixed(1);
    const len = xMajorTicks.includes(lon) ? 7 : 3;
    const seg = 'M'+x+' 0v-'+len+'M'+x+' '+PANEL_H+'v'+len;
    (len===7?major:minor).push(seg);
  }
  for (let lat=30; lat>=-10; lat-=2){
    const y = latScale(lat).toFixed(1);
    const len = yMajorTicks.includes(lat) ? 7 : 3;
    const seg = 'M0 '+y+'h-'+len+'M'+PANEL_W+' '+y+'h'+len;
    (len===7?major:minor).push(seg);
  }
  const mj = create('path', g, {d:major.join(''), stroke:'#000', 'stroke-width':2.5, fill:'none'});
  
  
  const mn = create('path', g, {d:minor.join(''), stroke:'#000', 'stroke-width':1.5, fill:'none'});
  
  
}

panelTitles.forEach((title, idx)=>{
  const ox = layoutX[idx], oy = layoutY[idx];
  const panel = create('g', panelsRoot, {transform:'translate('+ox+' '+oy+')'});
  
  

  const clip = create('clipPath', panel, {id:'clip-'+idx});
  create('rect', clip, {x:0, y:0, width:PANEL_W, height:PANEL_H});

  const plot = create('g', panel, {'clip-path':'url(#clip-'+idx+')'});
  
  

  const bg = create('rect', plot, {x:0, y:0, width:PANEL_W, height:PANEL_H, fill:levelColors[5]});
  
  

  drawField(plot, panelFields[idx]);

  const coast = create('path', plot, {d:coastlines.map(polyD).join(''), fill:'none', stroke:'#606060', 'stroke-width':1.9, 'stroke-linecap':'round', 'stroke-linejoin':'round'});
  
  
  const bord = create('path', plot, {d:borders.map(polyD).join(''), fill:'none', stroke:'#606060', 'stroke-width':1.6});
  
  

  const eq = create('line', plot, {x1:0, x2:PANEL_W, y1:latScale(0), y2:latScale(0), stroke:'#606060', 'stroke-width':1.7, 'stroke-dasharray':'5 4'});
  
  

  panelContours[idx].forEach(c=>{
    const line = create('path', plot, {d:smoothD(c[2], c[1]), fill:'none', stroke:seriesColors[c[0]], 'stroke-width':1.9});
    
    
  });

  if (idx === 2){
    stormMarkers.forEach(s=>{
      const x = lonScale(s[0]), y = latScale(s[1]);
      const m = create('ellipse', plot, {cx:x, cy:y, rx:5, ry:8, fill:'#e01010', stroke:'#000', 'stroke-width':1.5});
      
      
      const d = create('rect', plot, {x:x-2, y:y-3, width:4, height:6, fill:'none', stroke:'#fff', 'stroke-width':1});
      
      
    });
  }

  const frame = create('rect', panel, {x:0, y:0, width:PANEL_W, height:PANEL_H, fill:'none', stroke:'#000', 'stroke-width':3.2});
  
  
  drawTicks(panel);

  const t = label(panel, idx<4 ? -1 : 0, titleBaseY[idx]-oy, title, 'start', 37, 0.93);
  
  

  if (idx < 4){
    yMajorTicks.forEach((lat,i)=>{
      const yl = label(panel, -28, latScale(lat)+14, yMajorLabels[i], 'end', 37, 0.93);
      
      
    });
  }
  if (idx === 3 || idx === 7){
    xMajorTicks.forEach((lon,i)=>{
      const xl = label(panel, lonScale(lon), 197, xMajorLabels[i], 'middle', 37, 0.93);
      
      
    });
  }
});

const titleObs = label(panelsRoot, 737, 39, 'Observed', 'end', 37, 0.93);


const titleFc = label(panelsRoot, 1478, 39, 'CFS Forecast', 'end', 37, 0.93);



// ---- Colorbar ----
const cbRoot = document.getElementById('colorbar');
const CB_X = 229, CB_W = 604, CB_Y = 1002, CB_H = 24;
const cbStep = CB_W / levelColors.length;
levelColors.forEach((col,i)=>{
  const box = create('rect', cbRoot, {x:CB_X+i*cbStep, y:CB_Y, width:cbStep, height:CB_H, fill:col, stroke:'#000', 'stroke-width':1.5});
  
  
});
colorbarLabels.forEach((txt,i)=>{
  const lab = label(cbRoot, CB_X+(i+1)*cbStep, 1056, txt, 'middle', 33, 0.92);
  
  
});
</script>
</body>
</html>
